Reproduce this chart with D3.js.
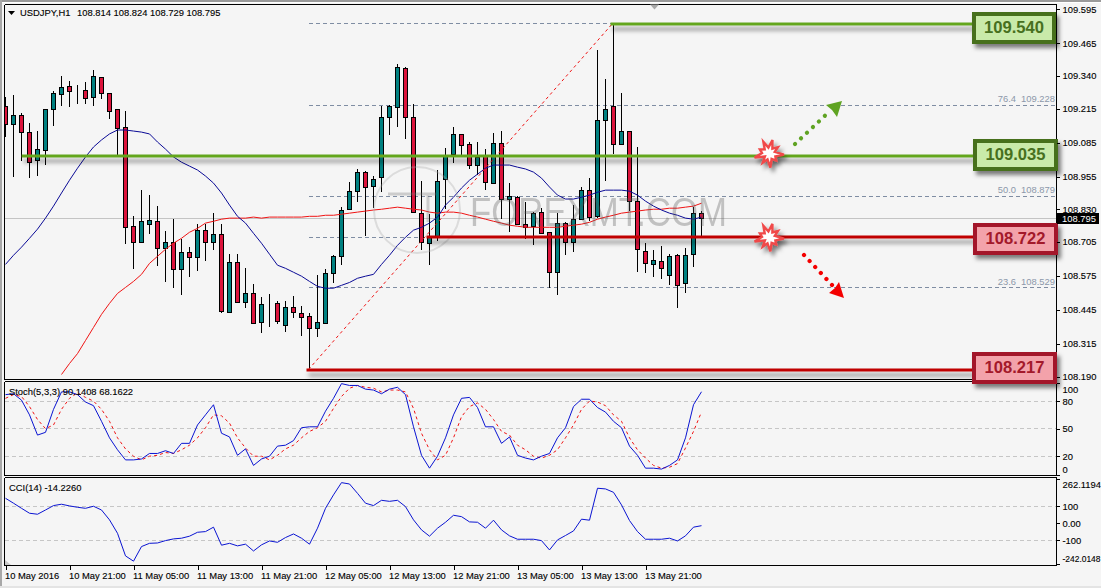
<!DOCTYPE html>
<html>
<head>
<meta charset="utf-8">
<title>USDJPY H1</title>
<script src="https://cdnjs.cloudflare.com/ajax/libs/d3/7.8.5/d3.min.js"></script>
<style>
html,body{margin:0;padding:0;background:#f5f5f5;overflow:hidden}
svg{display:block}
text{font-family:"Liberation Sans",Arial,sans-serif;font-size:9.4px;fill:#000;stroke:#000;stroke-width:0.12px}
</style>
</head>
<body>
<svg id="chart" width="1101" height="588"></svg>
<script>
// Hourly USDJPY candles
const opens = [109.221,109.152,109.187,109.125,109.014,109.053,109.210,109.267,109.298,109.283,109.283,109.256,109.332,109.271,109.210,109.141,108.765,108.704,108.773,108.784,108.681,108.704,108.600,108.665,108.646,108.750,108.704,108.734,108.436,108.627,108.474,108.508,108.397,108.462,108.470,108.386,108.455,108.432,108.420,108.374,108.393,108.585,108.650,108.830,108.899,108.972,108.918,108.949,109.179,109.218,109.367,109.179,108.815,108.700,108.727,108.941,109.037,109.114,109.076,108.995,109.030,108.930,109.083,108.869,108.876,108.773,108.765,108.819,108.742,108.589,108.777,108.704,108.792,108.903,108.800,109.168,109.221,109.080,109.129,108.861,108.669,108.619,108.631,108.577,108.654,108.547,108.658,108.814];
const highs = [109.260,109.267,109.198,109.160,109.129,109.214,109.283,109.340,109.321,109.306,109.317,109.363,109.336,109.275,109.210,109.206,108.803,108.903,108.884,108.842,108.746,108.792,108.715,108.685,108.773,108.773,108.815,108.773,108.658,108.658,108.604,108.543,108.493,108.504,108.478,108.478,108.497,108.459,108.432,108.577,108.600,108.654,108.838,108.934,108.984,108.976,108.957,109.225,109.229,109.386,109.375,109.233,108.938,108.811,108.980,109.064,109.145,109.114,109.087,109.087,109.060,109.122,109.129,108.930,108.880,108.857,108.819,108.834,108.742,108.815,108.780,108.846,108.915,108.949,109.440,109.329,109.540,109.275,109.129,109.068,108.700,108.673,108.688,108.658,108.658,108.681,108.838,108.824];
const lows = [109.106,108.953,109.014,108.949,108.957,108.999,109.148,109.225,109.221,109.233,109.233,109.225,109.252,109.175,109.034,108.696,108.600,108.704,108.734,108.612,108.550,108.528,108.501,108.570,108.593,108.631,108.673,108.432,108.432,108.470,108.451,108.390,108.355,108.378,108.393,108.359,108.416,108.344,108.217,108.340,108.393,108.547,108.616,108.827,108.857,108.727,108.834,108.895,109.114,109.145,109.099,108.815,108.673,108.616,108.708,108.830,109.007,109.037,108.984,108.961,108.903,108.930,108.792,108.742,108.773,108.715,108.692,108.738,108.528,108.501,108.654,108.665,108.788,108.784,108.796,108.938,109.041,109.080,108.823,108.589,108.585,108.570,108.562,108.539,108.451,108.508,108.608,108.729];
const closes = [109.152,109.187,109.122,109.010,109.057,109.210,109.271,109.294,109.279,109.283,109.252,109.336,109.271,109.202,109.137,108.757,108.704,108.784,108.788,108.681,108.704,108.600,108.665,108.646,108.750,108.704,108.734,108.439,108.627,108.474,108.508,108.393,108.466,108.462,108.401,108.455,108.436,108.416,108.374,108.397,108.585,108.650,108.827,108.899,108.972,108.915,108.945,109.179,109.221,109.371,109.179,108.815,108.704,108.727,108.938,109.030,109.114,109.072,108.995,109.026,108.930,109.083,108.869,108.880,108.773,108.761,108.815,108.738,108.589,108.777,108.704,108.792,108.903,108.800,109.168,109.210,109.076,109.129,108.861,108.677,108.623,108.635,108.604,108.650,108.539,108.654,108.815,108.795];

// Moving averages overlaid on the price pane
const maFast = [108.619,108.654,108.685,108.719,108.754,108.796,108.842,108.892,108.941,108.987,109.030,109.068,109.095,109.118,109.133,109.133,109.129,109.125,109.118,109.087,109.060,109.030,109.010,108.995,108.980,108.957,108.930,108.892,108.846,108.803,108.777,108.738,108.700,108.658,108.616,108.604,108.589,108.574,108.554,108.535,108.528,108.528,108.539,108.550,108.566,108.574,108.581,108.619,108.654,108.692,108.723,108.750,108.761,108.777,108.800,108.846,108.876,108.911,108.941,108.964,108.987,108.999,108.999,108.999,108.991,108.984,108.972,108.949,108.915,108.884,108.869,108.869,108.876,108.884,108.895,108.903,108.903,108.903,108.899,108.884,108.861,108.842,108.827,108.815,108.807,108.796,108.792,108.800];
const maSlow = [null,null,null,null,null,null,null,108.198,108.240,108.278,108.328,108.378,108.428,108.470,108.508,108.531,108.554,108.581,108.623,108.650,108.677,108.700,108.719,108.742,108.757,108.777,108.784,108.792,108.796,108.796,108.796,108.800,108.796,108.800,108.800,108.800,108.800,108.800,108.803,108.803,108.807,108.807,108.811,108.815,108.819,108.823,108.827,108.830,108.834,108.838,108.834,108.830,108.827,108.819,108.815,108.819,108.819,108.815,108.807,108.800,108.792,108.784,108.777,108.769,108.765,108.761,108.761,108.761,108.761,108.761,108.765,108.769,108.773,108.780,108.792,108.800,108.807,108.815,108.819,108.823,108.827,108.830,108.830,108.834,108.834,108.838,108.842,108.853];

// Stochastic (5,3,3)
const stochMain = [87,88,81,65,43,46,71,90,90,87,79,75,58,40,27,16,16,17,23,23,26,23,34,34,54,65,76,45,41,21,28,10,17,20,31,32,37,51,52,52,69,83,99,97,97,93,92,88,93,95,87,52,21,7,20,40,65,83,84,73,52,52,34,41,21,18,16,20,23,40,51,74,82,82,73,68,58,51,31,21,7,7,6,10,16,40,76,90.14];
const stochSignal = [83,87,85,74,60,50,54,71,83,89,84,80,71,58,40,28,20,16,20,21,24,23,27,32,40,51,65,64,56,40,29,20,20,16,21,28,32,40,47,51,58,72,85,94,97,95,94,90,92,92,90,72,45,27,16,21,40,63,74,78,71,60,47,43,32,27,20,18,21,27,40,54,71,80,79,75,65,58,40,27,18,10,7,8,12,29,47,68.16];

// CCI (14)
const cci = [147,118,88,59,53,78,104,112,102,94,88,100,78,20,-59,-192,-223,-137,-118,-116,-102,-92,-88,-76,-53,-49,-23,-129,-118,-133,-123,-163,-127,-104,-112,-84,-63,-88,-123,-29,88,167,239,231,176,118,104,135,129,135,98,20,-39,-76,-29,6,47,39,8,6,-29,18,-39,-74,-94,-94,-94,-102,-157,-98,-72,-45,24,18,206,202,182,108,16,-49,-94,-94,-94,-88,-104,-74,-23,-14.226];

// Axis ticks and captions
const priceTicks = [109.595,109.465,109.340,109.215,109.085,108.955,108.830,108.705,108.575,108.445,108.315,108.190];
const stochTicks = [100,80,50,20,0];
const stochGrid = [80,50,20];
const cciTicks = [262.1194,100,0,-100,-242.0148];
const cciGrid = [100,-100];
const timeBars = [0,8,16,24,32,40,48,56,64,72,80];
const timeLabels = ["10 May 2016","10 May 21:00","11 May 05:00","11 May 13:00","11 May 21:00","12 May 05:00","12 May 13:00","12 May 21:00","13 May 05:00","13 May 13:00","13 May 21:00"];
const lastPrice = 108.795;

// Fibonacci retracement between the swing low and the swing high
const swingBars = [38,76];
const swingPrices = [108.217,109.540];
const fibPercents = [23.6,50.0,76.4];
const fibPrices = [108.529,108.879,109.228];
const fibCoveredLevels = [108.722,109.035,109.540];

// Support and resistance levels with their end tags
const levelPrices = [109.540,109.035,108.722,108.217];
const levelStartBars = [76,2.4,53,38];
const levelKinds = ["up","up","down","down"];

const width = 1101, height = 588;
const paneLeft = 4.5, paneRight = 1056.5;

const svg = d3.select("#chart");
const barX = d3.scaleLinear().domain([0,87]).range([5.5,701.5]);
const priceY = d3.scaleLinear().domain([108.19,109.595]).range([376.6,9.2]);
const stochY = d3.scaleLinear().domain([0,100]).range([474.6,382.7]);
const cciY = d3.scaleLinear().domain([-242.0148,262.1194]).range([564.4,478.7]);
const snap = v => Math.round(v - 0.5) + 0.5;

const defs = svg.append("defs");
defs.append("clipPath").attr("id","priceClip").append("rect").attr("x",5).attr("y",5).attr("width",1051).attr("height",374);
defs.append("clipPath").attr("id","stochClip").append("rect").attr("x",5).attr("y",382).attr("width",1051).attr("height",93);
defs.append("clipPath").attr("id","cciClip").append("rect").attr("x",5).attr("y",478).attr("width",1051).attr("height",87);
const lineShadow = defs.append("filter").attr("id","lineShadow").attr("filterUnits","userSpaceOnUse")
  .attr("x",0).attr("y",0).attr("width",width).attr("height",height);
lineShadow.append("feDropShadow").attr("dx",2).attr("dy",5).attr("stdDeviation",2.2).attr("flood-color","#000").attr("flood-opacity",0.42);
const boxShadow = defs.append("filter").attr("id","boxShadow").attr("filterUnits","userSpaceOnUse")
  .attr("x",0).attr("y",0).attr("width",width).attr("height",height);
boxShadow.append("feDropShadow").attr("dx",3).attr("dy",4).attr("stdDeviation",2).attr("flood-color","#000").attr("flood-opacity",0.5);

// Window chrome
svg.append("rect").attr("width",width).attr("height",height).attr("fill","#f5f5f5");
svg.append("rect").attr("width",width).attr("height",2).attr("fill","#9a9a9a");
svg.append("rect").attr("y",2).attr("width",width).attr("height",1).attr("fill","#ffffff");
svg.append("rect").attr("width",2).attr("height",height).attr("fill","#a8a8a8");
svg.append("rect").attr("y",586).attr("width",width).attr("height",2).attr("fill","#e4e4e4");

// Pane frames
const frames = [[4.5,379],[381.5,475.5],[477.5,565.5]];
svg.append("g").selectAll("path").data(frames).join("path")
  .attr("d",d => `M${paneLeft},${d[0]}V${d[1]}H${paneRight}V${d[0]}H${paneLeft}`)
  .attr("fill","none").attr("stroke","#000").attr("stroke-width",1).attr("shape-rendering","crispEdges");

// Shift marker at the top of the price pane
svg.append("path").attr("d","M650,4.5L659,4.5L654.5,9.5Z").attr("fill","#a9a9a9");

const pricePane = svg.append("g").attr("clip-path","url(#priceClip)");

// Current price line
pricePane.append("line").attr("x1",paneLeft).attr("x2",paneRight)
  .attr("y1",snap(priceY(lastPrice))).attr("y2",snap(priceY(lastPrice)))
  .attr("stroke","#c4c4c4").attr("shape-rendering","crispEdges");

// Fibonacci dashed levels
const fibLevelPrices = [...fibPrices,...fibCoveredLevels];
pricePane.append("g").selectAll("line").data(fibLevelPrices).join("line")
  .attr("x1",barX(swingBars[0])-1).attr("x2",paneRight-2)
  .attr("y1",d => snap(priceY(d))).attr("y2",d => snap(priceY(d)))
  .attr("stroke","#7f8da3").attr("stroke-dasharray","4 3").attr("shape-rendering","crispEdges");
svg.append("g").selectAll("text").data(fibPrices).join("text")
  .attr("x",1055).attr("y",d => priceY(d)-3).attr("text-anchor","end").style("fill","#8c98aa").style("stroke","none")
  .text(d => d.toFixed(3));
svg.append("g").selectAll("text").data(fibPercents).join("text")
  .attr("x",1016).attr("y",(d,i) => priceY(fibPrices[i])-3).attr("text-anchor","end").style("fill","#8c98aa").style("stroke","none")
  .text(d => d.toFixed(1));

// Candles
const teal = "#008080", crimson = "#dc143c";
const candles = pricePane.append("g").selectAll("g").data(opens.map((o,i) => ({i,o,h:highs[i],l:lows[i],c:closes[i]}))).join("g")
  .attr("shape-rendering","crispEdges");
candles.append("line")
  .attr("x1",d => barX(d.i)).attr("x2",d => barX(d.i))
  .attr("y1",d => Math.round(priceY(d.h))).attr("y2",d => Math.round(priceY(d.l)))
  .attr("stroke","#000");
candles.append("rect")
  .attr("x",d => barX(d.i)-2)
  .attr("width",4)
  .attr("y",d => snap(priceY(Math.max(d.o,d.c))))
  .attr("height",d => Math.max(0,Math.round(Math.abs(priceY(d.o)-priceY(d.c)))))
  .attr("fill",d => d.c >= d.o ? teal : crimson)
  .attr("stroke","#000");

// Moving averages
const priceLine = d3.line().defined(d => d !== null).x((d,i) => barX(i)).y(d => priceY(d));
pricePane.append("path").attr("d",priceLine(maSlow)).attr("fill","none").attr("stroke","#f01414").attr("stroke-width",1);
pricePane.append("path").attr("d",priceLine(maFast)).attr("fill","none").attr("stroke","#0a0a96").attr("stroke-width",1);

// Swing trend line for the retracement
pricePane.append("line")
  .attr("x1",barX(swingBars[0])-1).attr("y1",priceY(swingPrices[0]))
  .attr("x2",barX(swingBars[1])-1).attr("y2",priceY(swingPrices[1]))
  .attr("stroke","#f01414").attr("stroke-dasharray","3 3");

// Faint logo across the price pane
const logo = svg.append("g").attr("opacity",0.32).style("pointer-events","none");
logo.append("circle").attr("cx",417).attr("cy",210).attr("r",43).attr("fill","none").attr("stroke","#a8a8a8").attr("stroke-width",2);
logo.append("path").attr("d","M388,194H436M428,194V222").attr("fill","none").attr("stroke","#777").attr("stroke-width",3);
logo.append("text").attr("x",470).attr("y",226).attr("textLength",257).attr("lengthAdjust","spacingAndGlyphs")
  .style("font-size","41px").style("fill","#555").style("stroke","none").text("FOREXMT.COM");

// Horizontal levels
const levelColors = {up:{line:"#64a61f",border:"#47701e",fill:"#c9eaa9",text:"#47701e"},
                     down:{line:"#c00000",border:"#a3192a",fill:"#f3a2aa",text:"#a3192a"}};
const boxLeft = [972,973,973,972], boxRight = [1056,1058,1058,1057];
const boxOffset = [-10,-14.5,-12.5,-15.5];
const levels = svg.append("g").selectAll("g").data(levelPrices).join("g");
levels.append("rect")
  .attr("x",(d,i) => barX(levelStartBars[i]) - 3)
  .attr("width",(d,i) => boxLeft[i] - barX(levelStartBars[i]) + 3)
  .attr("y",d => Math.round(priceY(d)) - 1.5).attr("height",3)
  .attr("fill",(d,i) => levelColors[levelKinds[i]].line)
  .attr("filter","url(#lineShadow)");
levels.append("rect")
  .attr("x",(d,i) => boxLeft[i]+2).attr("y",(d,i) => Math.round(priceY(d)+boxOffset[i]))
  .attr("width",(d,i) => boxRight[i]-boxLeft[i]-4).attr("height",28)
  .attr("fill",(d,i) => levelColors[levelKinds[i]].fill)
  .attr("stroke",(d,i) => levelColors[levelKinds[i]].border).attr("stroke-width",4)
  .attr("filter","url(#boxShadow)");
levels.append("text")
  .attr("x",(d,i) => (boxLeft[i]+boxRight[i])/2).attr("y",(d,i) => Math.round(priceY(d)+boxOffset[i])+18.5)
  .attr("text-anchor","middle")
  .style("font-size","16.6px").style("font-weight","bold").style("stroke","none")
  .style("fill",(d,i) => levelColors[levelKinds[i]].text)
  .text(d => d.toFixed(3));

// Breakout bursts on the two inner levels
const burstRadii = [14,6,11,6,15,7,10,6,14,6,11,5,15,7,10,6,13,6];
const burstOutline = d3.lineRadial().curve(d3.curveLinearClosed)
  .angle((r,i) => i/burstRadii.length*2*Math.PI + 0.25).radius(r => r)(burstRadii);
const bursts = svg.append("g").attr("filter","url(#boxShadow)");
[[769,levelPrices[1]+0.008],[769,levelPrices[2]]].forEach(([x,p]) => {
  bursts.append("path").attr("transform",`translate(${x},${priceY(p)})`).attr("d",burstOutline)
    .attr("fill","#fff").attr("stroke","#f04a4a").attr("stroke-width",2.4);
});

// Dotted direction arrows
function dottedArrow(from,to,head,color){
  svg.append("line").attr("x1",from[0]).attr("y1",from[1]).attr("x2",to[0]).attr("y2",to[1])
    .attr("stroke",color).attr("stroke-width",4.2).attr("stroke-linecap","round").attr("stroke-dasharray","0.1 8.1");
  svg.append("path").attr("d","M"+head.join("L")+"Z").attr("fill",color);
}
dottedArrow([795,144],[830,111],[[842,101],[826,105],[832,110],[837,117]],"#5fa322");
dottedArrow([804,255],[832,285],[[844,298],[829,293],[835,288],[839,282]],"#f40000");

// Right-hand axes
function styleAxis(g){
  g.select(".domain").remove();
  g.selectAll("line").attr("stroke","#000").attr("shape-rendering","crispEdges");
}
svg.append("g").attr("transform",`translate(${paneRight},0)`)
  .call(d3.axisRight(priceY).tickValues(priceTicks).tickSize(3).tickPadding(3).tickFormat(d3.format(".3f")))
  .call(styleAxis);
svg.append("g").attr("transform",`translate(${paneRight},0)`)
  .call(d3.axisRight(stochY).tickValues(stochTicks).tickSize(3).tickPadding(3))
  .call(styleAxis)
  .call(g => g.selectAll("text").attr("dy",d => d===100 ? "1em" : d===0 ? "-0.2em" : "0.32em"));
svg.append("g").attr("transform",`translate(${paneRight},0)`)
  .call(d3.axisRight(cciY).tickValues(cciTicks).tickSize(3).tickPadding(3)
    .tickFormat(d => d===0 ? "0.00" : Number.isInteger(d) ? String(d) : d.toFixed(4)))
  .call(styleAxis)
  .call(g => g.selectAll("text").attr("dy",d => d>200 ? "0.9em" : d<-200 ? "-0.35em" : "0.32em")
    .filter(d => d<-200).attr("textLength",38).attr("lengthAdjust","spacingAndGlyphs"));

// Last price flag
svg.append("rect").attr("x",1057).attr("y",213).attr("width",42).attr("height",11).attr("fill","#000");
svg.append("text").attr("x",1062).attr("y",priceY(lastPrice)+3.5).style("fill","#fff").style("stroke","none").text(lastPrice.toFixed(3));

// Indicator panes
const stochPane = svg.append("g").attr("clip-path","url(#stochClip)");
stochPane.append("g").selectAll("line").data(stochGrid).join("line")
  .attr("x1",5).attr("x2",paneRight).attr("y1",d => snap(stochY(d))).attr("y2",d => snap(stochY(d)))
  .attr("stroke","#c6c6c6").attr("stroke-dasharray","4 3").attr("shape-rendering","crispEdges");
const stochLine = d3.line().x((d,i) => barX(i)).y(d => stochY(d));
stochPane.append("path").attr("d",stochLine(stochSignal)).attr("fill","none").attr("stroke","#f01414").attr("stroke-dasharray","3 3");
stochPane.append("path").attr("d",stochLine(stochMain)).attr("fill","none").attr("stroke","#0a14d2");

const cciPane = svg.append("g").attr("clip-path","url(#cciClip)");
cciPane.append("g").selectAll("line").data(cciGrid).join("line")
  .attr("x1",5).attr("x2",paneRight).attr("y1",d => snap(cciY(d))).attr("y2",d => snap(cciY(d)))
  .attr("stroke","#c6c6c6").attr("stroke-dasharray","4 3").attr("shape-rendering","crispEdges");
cciPane.append("path").attr("d",d3.line().x((d,i) => barX(i)).y(d => cciY(d))(cci)).attr("fill","none").attr("stroke","#0a14d2");
svg.append("path").attr("d","M5,560L5,565L11,565Z").attr("fill","#c8c8c8");

// Time axis
const timeAxis = svg.append("g").attr("transform","translate(0,565.5)")
  .call(d3.axisBottom(barX).tickValues(timeBars).tickSize(4).tickPadding(3).tickFormat((d,i) => timeLabels[i]))
  .call(styleAxis);
timeAxis.selectAll("text").attr("text-anchor","start").attr("dx",-1);

// Pane captions
svg.append("path").attr("d","M8,11L15,11L11.5,15Z").attr("fill","#000");
svg.append("text").attr("x",20).attr("y",16).text("USDJPY,H1");
svg.append("text").attr("x",77).attr("y",16)
  .text([opens[87],highs[87],lows[87],closes[87]].map(v => v.toFixed(3)).join(" "));
svg.append("text").attr("x",9).attr("y",394.5).text("Stoch(5,3,3) 90.1408 68.1622");
svg.append("text").attr("x",9).attr("y",490.5).text("CCI(14) -14.2260");
</script>
</body>
</html>
